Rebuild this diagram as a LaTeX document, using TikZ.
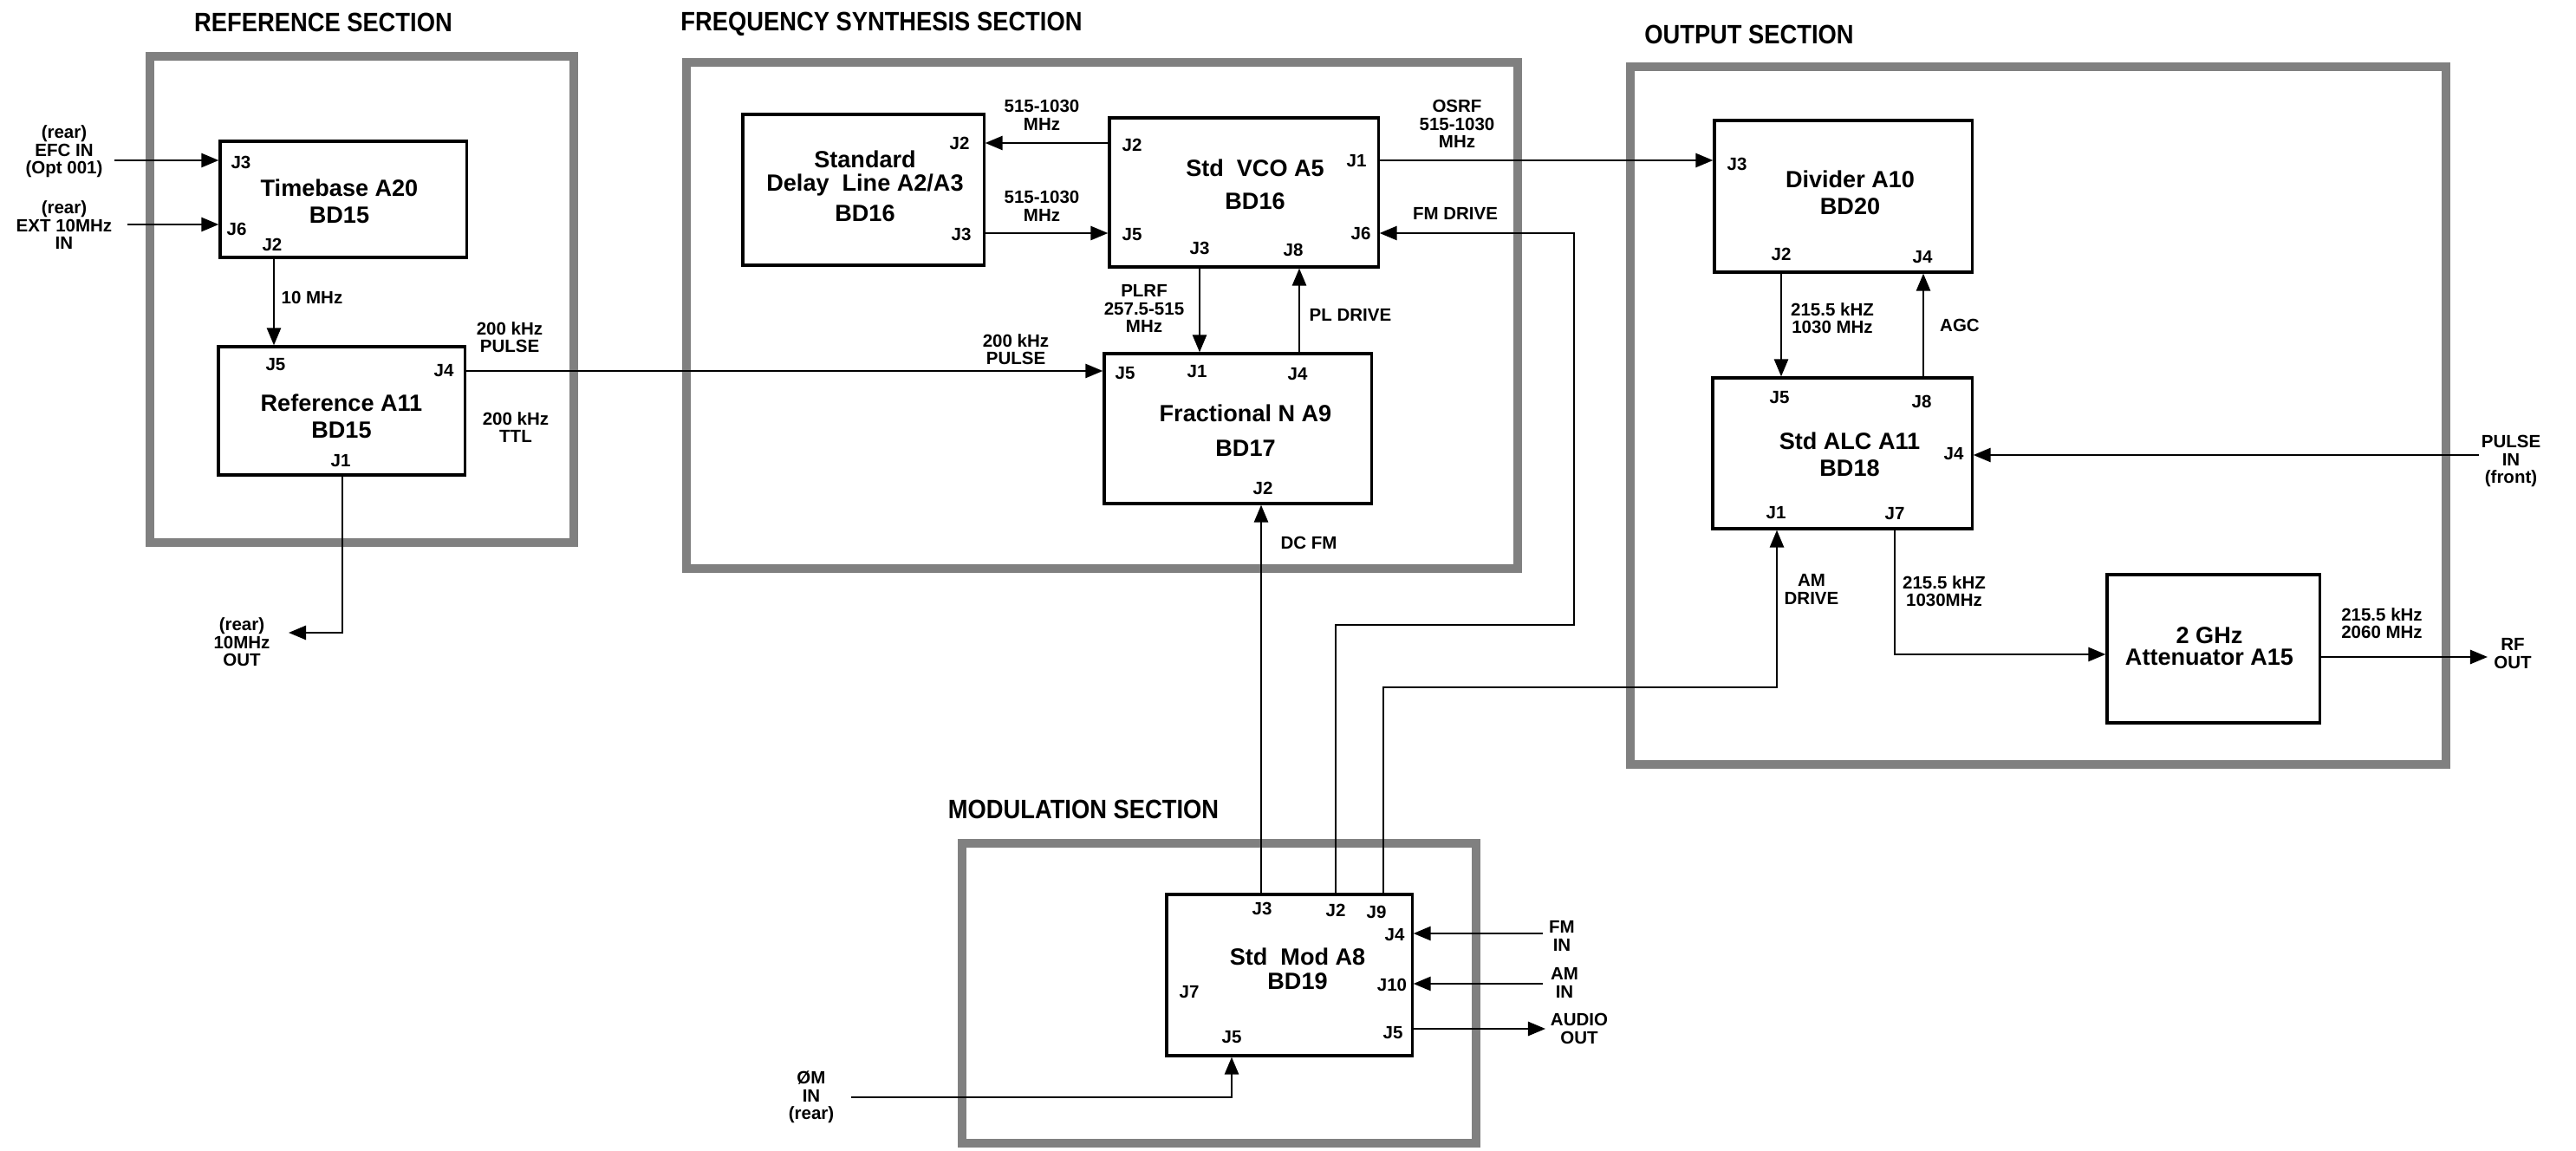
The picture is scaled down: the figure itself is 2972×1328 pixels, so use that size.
\documentclass[tikz,border=0pt]{standalone}
\usepackage{fontspec}
\setmainfont{Liberation Sans}
\newfontfamily\mysecfnt[FakeStretch=0.89]{Liberation Sans Bold}
\usetikzlibrary{arrows.meta}
\newcommand\mylbl{\fontsize{5.83pt}{5.85pt}\selectfont\bfseries}
\newcommand\myttl{\fontsize{7.7pt}{8.8pt}\selectfont\bfseries}
\newcommand\mysec{\mysecfnt\fontsize{8.73pt}{10pt}\selectfont}
\begin{document}
\begin{tikzpicture}[x=0.01cm,y=-0.01cm,
  secband/.style={draw=black!50, line width=3.1pt},
  blk/.style={draw, line width=0.9pt, inner sep=0pt, rectangle},
  wire/.style={line width=0.65pt, -{Triangle[length=5.7pt,width=4.6pt]}},
  lbl/.style={font=\mylbl, align=center, inner sep=0pt},
  ttl/.style={font=\myttl, align=center, inner sep=0pt},
  sect/.style={font=\mysec, inner sep=0pt}]
\useasboundingbox (0,0) rectangle (2972,1328);

% section frames
\draw[secband] (173,65) rectangle (662,626);
\draw[secband] (792,72) rectangle (1751,656);
\draw[secband] (1881,77) rectangle (2822,882);
\draw[secband] (1110,973) rectangle (1703,1319);

% section titles
\node[sect] (t-ref) at (373,26) {REFERENCE SECTION};
\node[sect] (t-frq) at (1017,28) {FREQUENCY SYNTHESIS SECTION};
\node[sect] (t-out) at (2018,40) {OUTPUT SECTION};
\node[sect] (t-mod) at (1250,934) {MODULATION SECTION};

% blocks
\node[blk, minimum width=2.84cm, minimum height=1.34cm] (tb) at (396,230) {};
\node[blk, minimum width=2.84cm, minimum height=1.48cm] (ref) at (394,474) {};
\node[blk, minimum width=2.78cm, minimum height=1.74cm] (dl) at (996,219) {};
\node[blk, minimum width=3.10cm, minimum height=1.72cm] (vco) at (1435,222) {};
\node[blk, minimum width=3.08cm, minimum height=1.73cm] (fn) at (1428,494.5) {};
\node[blk, minimum width=2.97cm, minimum height=1.75cm] (div) at (2126.5,226.5) {};
\node[blk, minimum width=2.99cm, minimum height=1.74cm] (alc) at (2125.5,523) {};
\node[blk, minimum width=2.45cm, minimum height=1.71cm] (att) at (2553.5,748.5) {};
\node[blk, minimum width=2.83cm, minimum height=1.86cm] (mod) at (1487.5,1125) {};

% block titles
\node[ttl] (tb-t) at (391.5,232.5) {Timebase A20\\BD15};
\node[ttl] (ref-t) at (394,480.5) {Reference A11\\BD15};
\node[ttl] (dl-t) at (998,215) {Standard\\[-1.1pt]Delay~ Line A2/A3\\[1.1pt]BD16};
\node[ttl] (vco-t) at (1448,213) {Std~ VCO A5\\[2pt]BD16};
\node[ttl] (fn-t) at (1437,497) {Fractional N A9\\[2.5pt]BD17};
\node[ttl] (div-t) at (2134.5,222.5) {Divider A10\\BD20};
\node[ttl] (alc-t) at (2134,524) {Std ALC A11\\BD18};
\node[ttl] (att-t) at (2549,745.5) {2 GHz\\[-1.7pt]Attenuator A15};
\node[ttl] (mod-t) at (1497,1118) {Std~ Mod A8\\[-0.85pt]BD19};

% port labels
\node[lbl] (tbJ3) at (278,187) {J3};
\node[lbl] (tbJ6) at (273,264) {J6};
\node[lbl] (tbJ2) at (314,282) {J2};
\node[lbl] (refJ5) at (318,421) {J5};
\node[lbl] (refJ4) at (512,428) {J4};
\node[lbl] (refJ1) at (393,532) {J1};
\node[lbl] (dlJ2) at (1107,165) {J2};
\node[lbl] (dlJ3) at (1109,270) {J3};
\node[lbl] (vcoJ2) at (1306,167) {J2};
\node[lbl] (vcoJ5) at (1306,271) {J5};
\node[lbl] (vcoJ3) at (1384,286) {J3};
\node[lbl] (vcoJ8) at (1492,288) {J8};
\node[lbl] (vcoJ1) at (1565,186) {J1};
\node[lbl] (vcoJ6) at (1570,269) {J6};
\node[lbl] (fnJ5) at (1298,431) {J5};
\node[lbl] (fnJ1) at (1381,429) {J1};
\node[lbl] (fnJ4) at (1497,432) {J4};
\node[lbl] (fnJ2) at (1457,563) {J2};
\node[lbl] (divJ3) at (2004,189) {J3};
\node[lbl] (divJ2) at (2055,293) {J2};
\node[lbl] (divJ4) at (2218,297) {J4};
\node[lbl] (alcJ5) at (2053,459) {J5};
\node[lbl] (alcJ8) at (2217,463) {J8};
\node[lbl] (alcJ4) at (2254,524) {J4};
\node[lbl] (alcJ1) at (2049,592) {J1};
\node[lbl] (alcJ7) at (2186,593) {J7};
\node[lbl] (modJ3) at (1456,1048) {J3};
\node[lbl] (modJ2) at (1541,1050) {J2};
\node[lbl] (modJ9) at (1588,1052) {J9};
\node[lbl] (modJ4) at (1609,1079) {J4};
\node[lbl] (modJ10) at (1606,1136) {J10};
\node[lbl] (modJ7) at (1372,1145) {J7};
\node[lbl] (modJ5b) at (1421,1197) {J5};
\node[lbl] (modJ5r) at (1607,1192) {J5};

% signal labels
\node[lbl] (efc) at (74,175) {(rear)\\EFC IN\\(Opt 001)};
\node[lbl] (ext) at (74,260) {(rear)\\EXT 10MHz\\IN};
\node[lbl] (l10m) at (360,343) {10 MHz};
\node[lbl] (lpulse1) at (588,389) {200 kHz\\PULSE};
\node[lbl] (lttl) at (595,493) {200 kHz\\TTL};
\node[lbl] (lout10) at (279,741) {(rear)\\10MHz\\OUT};
\node[lbl] (lvd1) at (1202,133) {515-1030\\MHz};
\node[lbl] (lvd2) at (1202,238) {515-1030\\MHz};
\node[lbl] (losrf) at (1681,143) {OSRF\\515-1030\\MHz};
\node[lbl] (lfmd) at (1679,246) {FM DRIVE};
\node[lbl] (lplrf) at (1320,356) {PLRF\\257.5-515\\MHz};
\node[lbl] (lpld) at (1558,363) {PL DRIVE};
\node[lbl] (lpulse2) at (1172,403) {200 kHz\\PULSE};
\node[lbl] (ldcfm) at (1510,626) {DC FM};
\node[lbl] (ldiv) at (2114,367) {215.5 kHZ\\1030 MHz};
\node[lbl] (lagc) at (2261,375) {AGC};
\node[lbl] (lpin) at (2897,532) {PULSE\\IN\\(front)};
\node[lbl] (lamd) at (2090,680) {AM\\DRIVE};
\node[lbl] (lj7) at (2243,682) {215.5 kHZ\\1030MHz};
\node[lbl] (latt) at (2748,719) {215.5 kHz\\2060 MHz};
\node[lbl] (lrf) at (2899,754) {RF\\OUT};
\node[lbl] (lfmin) at (1802,1080) {FM\\IN};
\node[lbl] (lamin) at (1805,1134) {AM\\IN};
\node[lbl] (laud) at (1822,1187) {AUDIO\\OUT};
\node[lbl] (lphi) at (936,1266) {ØM\\IN\\(rear)};

% free ends
\coordinate (efcS) at (132,185);
\coordinate (extS) at (147,259);
\coordinate (outE) at (333,730);
\coordinate (pulseS) at (2860,525);
\coordinate (rfE) at (2870,758);
\coordinate (fmS) at (1780,1077);
\coordinate (amS) at (1780,1135);
\coordinate (audE) at (1783,1187);
\coordinate (phiS) at (982,1266);

% connectors
\draw[wire] (efcS) -- (efcS -| tb.west);
\draw[wire] (extS) -- (extS -| tb.west);
\draw[wire] (316,0 |- tb.south) -- (316,0 |- ref.north);
\draw[wire] (ref.east |- 0,428) -- (fn.west |- 0,428);
\draw[wire] (395,0 |- ref.south) |- (outE);
\draw[wire] (vco.west |- 0,165) -- (dl.east |- 0,165);
\draw[wire] (dl.east |- 0,269) -- (vco.west |- 0,269);
\draw[wire] (1384,0 |- vco.south) -- (1384,0 |- fn.north);
\draw[wire] (1499,0 |- fn.north) -- (1499,0 |- vco.south);
\draw[wire] (vco.east |- 0,185) -- (div.west |- 0,185);
\draw[wire] (1541,0 |- mod.north) |- (1816,721) |- (vco.east |- 0,269);
\draw[wire] (1455,0 |- mod.north) -- (1455,0 |- fn.south);
\draw[wire] (1596,0 |- mod.north) |- (2050,793) -- (2050,0 |- alc.south);
\draw[wire] (2055,0 |- div.south) -- (2055,0 |- alc.north);
\draw[wire] (2219,0 |- alc.north) -- (2219,0 |- div.south);
\draw[wire] (pulseS) -- (pulseS -| alc.east);
\draw[wire] (2186,0 |- alc.south) |- (att.west |- 0,755);
\draw[wire] (att.east |- 0,758) -- (rfE);
\draw[wire] (fmS) -- (fmS -| mod.east);
\draw[wire] (amS) -- (amS -| mod.east);
\draw[wire] (mod.east |- audE) -- (audE);
\draw[wire] (phiS) -| (1421,0 |- mod.south);
\end{tikzpicture}
\end{document}
